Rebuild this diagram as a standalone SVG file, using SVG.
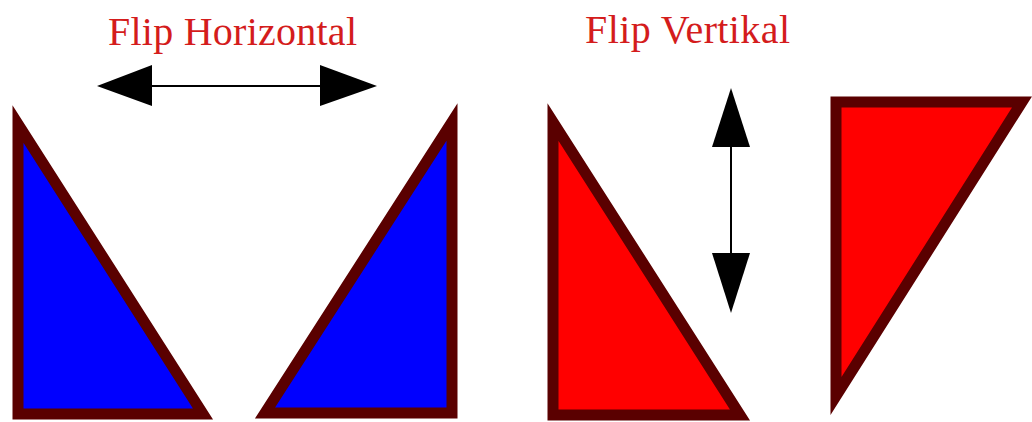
<svg xmlns="http://www.w3.org/2000/svg" width="1032" height="422" viewBox="0 0 1032 422">
<style>
.tri{stroke:#5a0000;stroke-width:11;stroke-linejoin:miter;stroke-miterlimit:10}
.blue{fill:#0000ff}
.red{fill:#ff0000}
.lbl{font-family:"Liberation Serif","Times New Roman",serif;font-size:40px;fill:#d41c1c}
.shaft{stroke:#000;stroke-width:2;fill:none}
.head{fill:#000}
</style>
<rect width="1032" height="422" fill="#fff"/>
<g id="label-horizontal"><text class="lbl" x="108" y="45" textLength="249">Flip Horizontal</text></g>
<g id="label-vertikal"><text class="lbl" x="585" y="43" textLength="205">Flip Vertikal</text></g>
<g id="tri-blue-left"><polygon class="tri blue" points="18,124 18,414 203,414"/></g>
<g id="tri-blue-right"><polygon class="tri blue" points="452,122 452,413 265,413"/></g>
<g id="tri-red-left"><polygon class="tri red" points="553,122 553,415 740,415"/></g>
<g id="tri-red-right"><polygon class="tri red" points="836,102 1022,102 836,396"/></g>
<g id="connectors">
<line class="shaft" x1="150" y1="86" x2="322" y2="86"/>
<polygon class="head" points="97,86 152,65 152,106"/>
<polygon class="head" points="377,86 320,65 320,106"/>
<line class="shaft" x1="731" y1="145" x2="731" y2="255"/>
<polygon class="head" points="731,88 712,147 750,147"/>
<polygon class="head" points="731,313 712,253 750,253"/>
</g>
</svg>
